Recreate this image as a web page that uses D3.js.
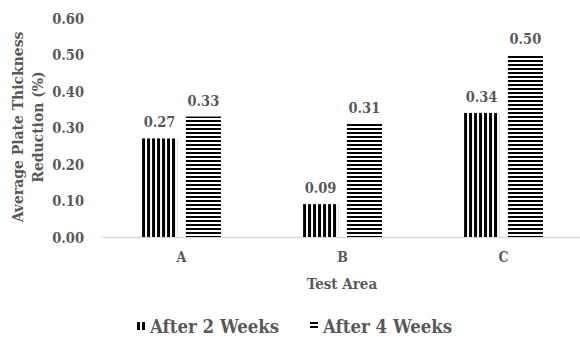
<!DOCTYPE html>
<html>
<head>
<meta charset="utf-8">
<script src="https://cdn.jsdelivr.net/npm/d3@7"></script>
<style>
  html, body { margin: 0; padding: 0; background: #fff; }
  svg { display: block; }
  text { font-family: "DejaVu Serif Condensed", "DejaVu Serif", serif; font-weight: bold; fill: #595959; }
</style>
</head>
<body>
<svg id="chart" width="580" height="345"></svg>
<script>
const categories = ["A", "B", "C"];
const seriesNames = ["After 2 Weeks", "After 4 Weeks"];
const after2Weeks = [0.27, 0.09, 0.34];
const after4Weeks = [0.33, 0.31, 0.50];
const yTicks = [0, 0.1, 0.2, 0.3, 0.4, 0.5, 0.6];

const svg = d3.select("#chart");
const defs = svg.append("defs");

// stripe patterns: vertical for 2 weeks, horizontal for 4 weeks
const vPat = defs.append("pattern").attr("id", "vstripe")
  .attr("patternUnits", "userSpaceOnUse").attr("width", 5).attr("height", 10);
vPat.append("rect").attr("width", 5).attr("height", 10).attr("fill", "#fff");
vPat.append("rect").attr("width", 3).attr("height", 10).attr("fill", "#000");

const hPat = defs.append("pattern").attr("id", "hstripe")
  .attr("patternUnits", "userSpaceOnUse").attr("width", 10).attr("height", 4);
hPat.append("rect").attr("width", 10).attr("height", 4).attr("fill", "#fff");
hPat.append("rect").attr("width", 10).attr("height", 2).attr("fill", "#000");

const fills = ["url(#vstripe)", "url(#hstripe)"];

const x0 = d3.scaleBand().domain(categories).range([101, 584])
  .paddingInner(0.51).paddingOuter(0.255);
const x1 = d3.scaleBand().domain(seriesNames).range([0, x0.bandwidth()])
  .paddingInner(0.2);
const y = d3.scaleLinear().domain([0, 0.6]).range([237, 18]);

// y tick labels (no axis line, no gridlines)
const yAxis = d3.axisLeft(y).tickValues(yTicks).tickFormat(d3.format(".2f")).tickSize(0).tickPadding(0);
const gy = svg.append("g").attr("transform", "translate(84,0)").call(yAxis);
gy.select(".domain").remove();
gy.selectAll("text").style("font-size", "14.5px").attr("fill", "#595959")
  .attr("dy", "0.35em").style("font-family", null);

// category axis
const xAxis = d3.axisBottom(x0).tickSize(0).tickPadding(15);
const gx = svg.append("g").attr("transform", "translate(0,237)").call(xAxis);
gx.select(".domain").attr("stroke", "#d9d9d9").attr("stroke-width", 1.3);
gx.selectAll("text").style("font-size", "14px").attr("fill", "#595959").style("font-family", null);

// bars
const rows = categories.map((c, i) => ({ cat: c, vals: [after2Weeks[i], after4Weeks[i]] }));
const groups = svg.append("g").selectAll("g").data(rows).join("g")
  .attr("transform", d => `translate(${x0(d.cat)},0)`);

const cells = groups.selectAll("g").data(d => d.vals.map((v, k) => ({ v, k, s: seriesNames[k] })))
  .join("g");

cells.append("rect")
  .attr("x", d => x1(d.s))
  .attr("y", d => y(d.v))
  .attr("width", x1.bandwidth())
  .attr("height", d => y(0) - y(d.v))
  .attr("fill", d => fills[d.k]);

cells.append("text")
  .attr("x", d => x1(d.s) + x1.bandwidth() / 2)
  .attr("y", d => y(d.v) - 11)
  .attr("text-anchor", "middle")
  .style("font-size", "14.5px")
  .text(d => d3.format(".2f")(d.v));

// axis titles
svg.append("text").attr("x", 342).attr("y", 289).attr("text-anchor", "middle")
  .style("font-size", "15px").text("Test Area");

const yTitle = svg.append("text").attr("transform", "translate(0,127) rotate(-90)")
  .attr("text-anchor", "middle").style("font-size", "15.5px");
yTitle.append("tspan").attr("x", 0).attr("y", 23).text("Average Plate Thickness");
yTitle.append("tspan").attr("x", 0).attr("y", 43).text("Reduction (%)");

// legend
const legendPos = [137, 310];
const legend = svg.append("g").selectAll("g").data(seriesNames).join("g")
  .attr("transform", (d, i) => `translate(${legendPos[i]},322)`);
legend.append("rect").attr("x", 0).attr("y", 0).attr("width", 8).attr("height", 8)
  .attr("fill", (d, i) => fills[i]);
legend.append("text").attr("x", 13).attr("y", 11).style("font-size", "18.5px").text(d => d);
</script>
</body>
</html>
